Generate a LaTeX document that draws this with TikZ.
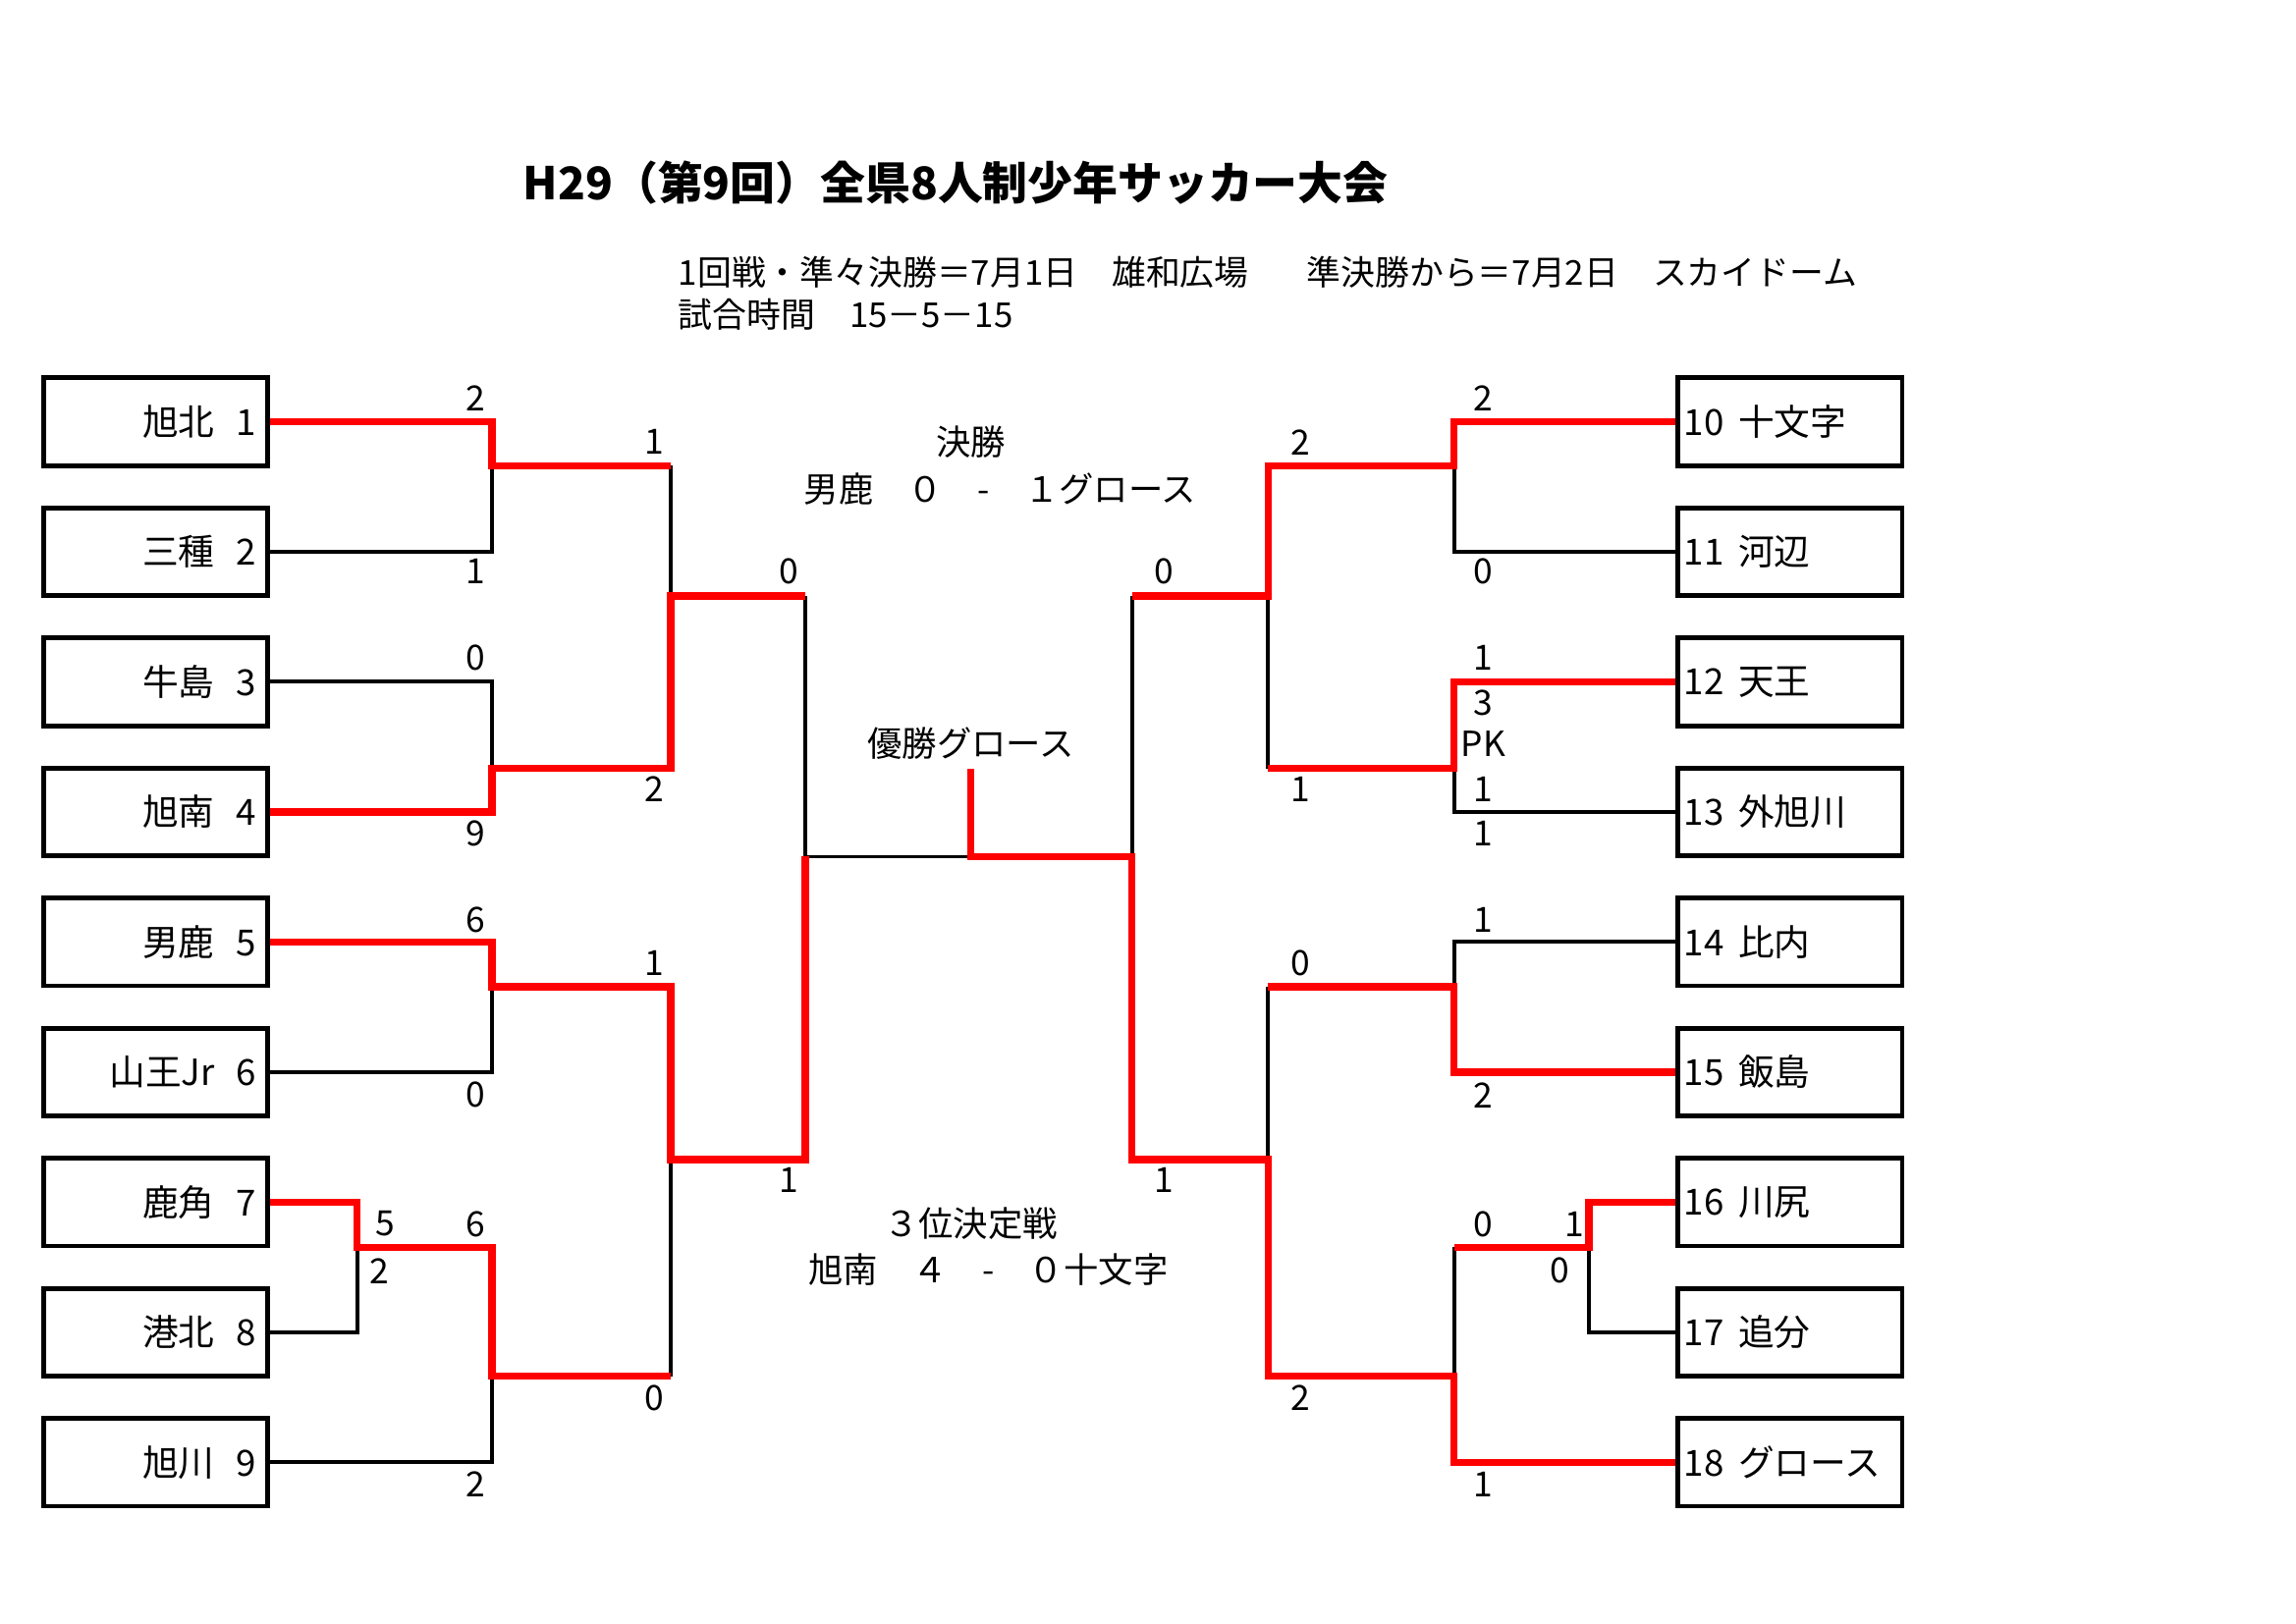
\documentclass[tikz,border=0pt]{standalone}
\usepackage{fontspec}
\setmainfont{Noto Sans CJK JP}
\usepackage{tikz}
\usetikzlibrary{
    positioning % for placing the team boxes below one another
}

\begin{document}
\begin{tikzpicture}[
    x=0.02cm,y=-0.02cm,
    node distance=1.7775cm,on grid,
    team/.style       = {draw,line width=1.8pt,minimum width=3.06cm,minimum height=1.2cm,
                         inner sep=0pt,font=\fontsize{14}{16}\selectfont},
    left team/.style  = {team,text width=2.74cm,align=right},
    right team/.style = {team,text width=2.9cm,align=left},
    lose/.style       = {line width=1.5pt},
    win/.style        = {red,line width=2.8pt},
    score/.style      = {inner sep=0pt,font=\fontsize{13.5}{15}\selectfont},
    caption/.style    = {inner sep=0pt,font=\fontsize{13.5}{16}\selectfont}
]

\useasboundingbox [fill=white] (0,0) rectangle (1568,1109);

% Title and schedule

    \node [inner sep=0pt,anchor=west,font=\fontsize{17.5}{20}\selectfont\bfseries] (title) at (357,125)
        {H29（第9回）全県8人制少年サッカー大会};
    \node [caption,anchor=west,font=\fontsize{13.3}{15}\selectfont] (days) at (463,186)
        {1回戦・準々決勝＝7月1日　雄和広場\hspace{1.7em}準決勝から＝7月2日　スカイドーム};
    \node [caption,anchor=west,font=\fontsize{13.3}{15}\selectfont] (time) at (463,215) {試合時間　15－5－15};

% Teams (left)

    \node [left team] (t1) at (106.5,288) {旭北\hspace{0.6em}1};
    \node [left team] (t2) [below=of t1]  {三種\hspace{0.6em}2};
    \node [left team] (t3) [below=of t2]  {牛島\hspace{0.6em}3};
    \node [left team] (t4) [below=of t3]  {旭南\hspace{0.6em}4};
    \node [left team] (t5) [below=of t4]  {男鹿\hspace{0.6em}5};
    \node [left team] (t6) [below=of t5]  {山王Jr\hspace{0.6em}6};
    \node [left team] (t7) [below=of t6]  {鹿角\hspace{0.6em}7};
    \node [left team] (t8) [below=of t7]  {港北\hspace{0.6em}8};
    \node [left team] (t9) [below=of t8]  {旭川\hspace{0.6em}9};

% Teams (right)

    \node [right team] (t10) at (1222.5,288) {10\hspace{0.4em}十文字};
    \node [right team] (t11) [below=of t10]  {11\hspace{0.4em}河辺};
    \node [right team] (t12) [below=of t11]  {12\hspace{0.4em}天王};
    \node [right team] (t13) [below=of t12]  {13\hspace{0.4em}外旭川};
    \node [right team] (t14) [below=of t13]  {14\hspace{0.4em}比内};
    \node [right team] (t15) [below=of t14]  {15\hspace{0.4em}飯島};
    \node [right team] (t16) [below=of t15]  {16\hspace{0.4em}川尻};
    \node [right team] (t17) [below=of t16]  {17\hspace{0.4em}追分};
    \node [right team] (t18) [below=of t17]  {18\hspace{0.4em}グロース};

% Meeting points of the bracket

    \coordinate (a12)  at (336,318);
    \coordinate (a34)  at (336,525);
    \coordinate (a56)  at (336,674);
    \coordinate (a78)  at (244,852);
    \coordinate (a789) at (336,940);
    \coordinate (qf1)  at (458,407);
    \coordinate (qf2)  at (458,792);
    \coordinate (sfl)  at (550,585);
    \coordinate (b1011)  at (993,318);
    \coordinate (b1213)  at (993,525);
    \coordinate (b1415)  at (993,674);
    \coordinate (b1617)  at (1085,852);
    \coordinate (b161718) at (993,940);
    \coordinate (qf3)  at (866,407);
    \coordinate (qf4)  at (866,792);
    \coordinate (sfr)  at (773,585);
    \coordinate (fin)  at (663,585);
    \coordinate (champ) at (663,525);

% Lost lines (black)

    \draw [lose] (t2.east) -| (a12);
    \draw [lose] (t3.east) -| (a34);
    \draw [lose] (a12 -| qf1) -- (qf1);
    \draw [lose] (sfl |- qf1) -- (sfl);
    \draw [lose] (t6.east) -| (a56);
    \draw [lose] (t8.east) -| (a78);
    \draw [lose] (t9.east) -| (a789);
    \draw [lose] (a789 -| qf2) -- (qf2);
    \draw [line width=1pt] (sfl) -- (fin);
    \draw [lose] (t11.west) -| (b1011);
    \draw [lose] (t13.west) -| (b1213);
    \draw [lose] (b1213 -| qf3) -- (qf3);
    \draw [lose] (sfr |- qf3) -- (sfr);
    \draw [lose] (t14.west) -| (b1415);
    \draw [lose] (b1415 -| qf4) -- (qf4);
    \draw [lose] (t17.west) -| (b1617);
    \draw [lose] (b1617 -| b161718) -- (b161718);

% Winning lines (red)

    \draw [win] (t1.east) -| (a12) -- (a12 -| qf1);
    \draw [win] (t4.east) -| (a34) -| (qf1) -- (qf1 -| sfl);
    \draw [win] (t5.east) -| (a56) -| (qf2) -- (qf2 -| sfl) -- (sfl);
    \draw [win] (t7.east) -| (a78) -| (a789) -- (a789 -| qf2);
    \draw [win] (t10.west) -| (b1011) -| (qf3) -- (qf3 -| sfr);
    \draw [win] (t12.west) -| (b1213) -- (b1213 -| qf3);
    \draw [win] (t15.west) -| (b1415) -- (b1415 -| qf4);
    \draw [win] (t16.west) -| (b1617) -- (b1617 -| b161718);
    \draw [win] (t18.west) -| (b161718) -| (qf4) -- (qf4 -| sfr) -- (sfr) -- (fin) -- (champ);

% Scores (left)

    \node [score] (s1)  at (325,272)  {2};  \node [score] (s2)  at (325,390)  {1};
    \node [score] (s3)  at (325,449)  {0};  \node [score] (s4)  at (325,569)  {9};
    \node [score] (s5)  at (447,302)  {1};  \node [score] (s6)  at (447,539)  {2};
    \node [score] (s7)  at (539,390)  {0};  \node [score] (s8)  at (539,806)  {1};
    \node [score] (s9)  at (325,628)  {6};  \node [score] (s10) at (325,748)  {0};
    \node [score] (s11) at (263,836)  {5};  \node [score] (s12) at (259,868)  {2};
    \node [score] (s13) at (325,836)  {6};  \node [score] (s14) at (325,1014) {2};
    \node [score] (s15) at (447,658)  {1};  \node [score] (s16) at (447,955)  {0};

% Scores (right)

    \node [score] (s17) at (1013,272) {2};  \node [score] (s18) at (1013,390) {0};
    \node [score] (s19) at (1013,449) {1};  \node [score] (s20) at (1013,480) {3};
    \node [score] (pk)  at (1013,508) {PK};
    \node [score] (s21) at (1013,539) {1};  \node [score] (s22) at (1013,569) {1};
    \node [score] (s23) at (888,302)  {2};  \node [score] (s24) at (888,539)  {1};
    \node [score] (s25) at (795,390)  {0};  \node [score] (s26) at (795,806)  {1};
    \node [score] (s27) at (1013,628) {1};  \node [score] (s28) at (1013,748) {2};
    \node [score] (s29) at (1075,836) {1};  \node [score] (s30) at (1065,868) {0};
    \node [score] (s31) at (1013,836) {0};  \node [score] (s32) at (1013,1014) {1};
    \node [score] (s33) at (888,658)  {0};  \node [score] (s34) at (888,955)  {2};

% Final and third place

    \node [caption] (final)    at (663,302) {決勝};
    \node [caption] (finres)   at (683,334) {男鹿　０　-　１グロース};
    \node [caption] (winner)   at (663,508) {優勝グロース};
    \node [caption] (third)    at (663,836) {３位決定戦};
    \node [caption] (thirdres) at (675,867) {旭南　４　-　０十文字};

\end{tikzpicture}
\end{document}
